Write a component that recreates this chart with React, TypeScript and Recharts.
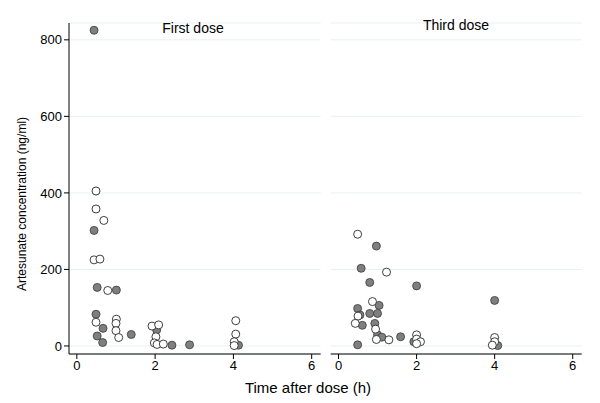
import React from "react";
import { ScatterChart, Scatter, XAxis, YAxis, CartesianGrid } from "recharts";

type Pt = { t: number; c: number };

const xTicks = [0, 2, 4, 6];
const yTicks = [0, 200, 400, 600, 800];
const panelTitles = ["First dose", "Third dose"];
const xLabel = "Time after dose (h)";
const yLabel = "Artesunate concentration (ng/ml)";

// First dose, filled markers
const firstFilled: Pt[] = [
  { t: 0.44, c: 825 }, { t: 0.44, c: 302 }, { t: 0.52, c: 153 }, { t: 1.01, c: 146 },
  { t: 0.49, c: 83 }, { t: 0.67, c: 46 }, { t: 0.52, c: 26 }, { t: 1.39, c: 30 },
  { t: 0.66, c: 9 }, { t: 2.04, c: 42 }, { t: 2.43, c: 2 }, { t: 2.88, c: 3 },
  { t: 4.13, c: 2 },
];
// First dose, hollow markers
const firstHollow: Pt[] = [
  { t: 0.49, c: 405 }, { t: 0.49, c: 358 }, { t: 0.69, c: 328 }, { t: 0.44, c: 225 },
  { t: 0.59, c: 227 }, { t: 0.79, c: 145 }, { t: 0.49, c: 62 }, { t: 1.01, c: 70 },
  { t: 1.0, c: 59 }, { t: 1.0, c: 40 }, { t: 1.07, c: 22 }, { t: 1.92, c: 52 },
  { t: 2.09, c: 55 }, { t: 2.02, c: 24 }, { t: 1.98, c: 8 }, { t: 2.05, c: 4 },
  { t: 2.21, c: 5 }, { t: 4.06, c: 66 }, { t: 4.06, c: 31 }, { t: 4.02, c: 11 },
  { t: 4.02, c: 1 },
];
// Third dose, filled markers
const thirdFilled: Pt[] = [
  { t: 0.97, c: 261 }, { t: 0.58, c: 203 }, { t: 0.8, c: 166 }, { t: 2.0, c: 157 },
  { t: 4.0, c: 119 }, { t: 1.04, c: 106 }, { t: 0.49, c: 98 }, { t: 0.55, c: 81 },
  { t: 0.8, c: 85 }, { t: 1.0, c: 85 }, { t: 0.61, c: 54 }, { t: 0.93, c: 59 },
  { t: 1.0, c: 29 }, { t: 1.11, c: 23 }, { t: 1.59, c: 24 }, { t: 0.49, c: 3 },
  { t: 1.93, c: 11 }, { t: 4.08, c: 1 },
];
// Third dose, hollow markers
const thirdHollow: Pt[] = [
  { t: 0.49, c: 292 }, { t: 1.23, c: 193 }, { t: 0.87, c: 116 }, { t: 0.5, c: 78 },
  { t: 0.43, c: 59 }, { t: 0.95, c: 44 }, { t: 0.97, c: 17 }, { t: 1.29, c: 16 },
  { t: 2.0, c: 29 }, { t: 2.0, c: 18 }, { t: 2.1, c: 11 }, { t: 2.0, c: 6 },
  { t: 4.0, c: 22 }, { t: 4.0, c: 11 }, { t: 3.94, c: 2 },
];

const FONT = "'Liberation Sans', Arial, Helvetica, sans-serif";
const xDomain = [-0.2, 6.23];
const yDomain = [-21, 844];

const FilledDot = (p: any) => (
  <circle cx={p.cx} cy={p.cy} r={4} fill="#7f7f7f" stroke="#3a3a3a" strokeWidth={0.8} />
);
const HollowDot = (p: any) => (
  <circle cx={p.cx} cy={p.cy} r={4} fill="#ffffff" stroke="#2a2a2a" strokeWidth={0.9} />
);

const tickStyle = { fontSize: 13, fill: "#000", fontFamily: FONT };

function Panel({ filled, hollow, showY, width, margin }: any) {
  return (
    <ScatterChart width={width} height={403} margin={margin}>
      <CartesianGrid vertical={false} stroke="#e8f1f1" strokeWidth={1} />
      <XAxis
        type="number"
        dataKey="t"
        domain={xDomain}
        ticks={xTicks}
        allowDataOverflow
        height={30}
        axisLine={{ stroke: "#000" }}
        tickLine={{ stroke: "#000" }}
        tickSize={5}
        tick={tickStyle}
      />
      <YAxis
        type="number"
        dataKey="c"
        domain={yDomain}
        ticks={yTicks}
        allowDataOverflow
        width={showY ? 69 : 0}
        hide={!showY}
        axisLine={{ stroke: "#000" }}
        tickLine={{ stroke: "#000" }}
        tickSize={5}
        tick={tickStyle}
      />
      <Scatter data={filled} shape={FilledDot} isAnimationActive={false} />
      <Scatter data={hollow} shape={HollowDot} isAnimationActive={false} />
    </ScatterChart>
  );
}

export default function App() {
  return (
    <div
      style={{
        position: "absolute",
        left: 0,
        top: 0,
        width: 600,
        height: 403,
        background: "#fff",
        fontFamily: FONT,
        overflow: "hidden",
      }}
    >
      <div style={{ position: "absolute", left: 0, top: 0 }}>
        <Panel
          filled={firstFilled}
          hollow={firstHollow}
          showY
          width={330}
          margin={{ top: 23, right: 9.3, bottom: 19, left: 0 }}
        />
      </div>
      <div style={{ position: "absolute", left: 330, top: 0 }}>
        <Panel
          filled={thirdFilled}
          hollow={thirdHollow}
          showY={false}
          width={270}
          margin={{ top: 23, right: 18.3, bottom: 19, left: 0.7 }}
        />
      </div>
      <div
        style={{
          position: "absolute",
          left: 133,
          width: 120,
          top: 20,
          textAlign: "center",
          fontSize: 14,
          color: "#000",
        }}
      >
        {panelTitles[0]}
      </div>
      <div
        style={{
          position: "absolute",
          left: 396,
          width: 120,
          top: 17,
          textAlign: "center",
          fontSize: 14,
          color: "#000",
        }}
      >
        {panelTitles[1]}
      </div>
      <div
        style={{
          position: "absolute",
          left: 208,
          width: 200,
          top: 379,
          textAlign: "center",
          fontSize: 15,
          color: "#000",
        }}
      >
        {xLabel}
      </div>
      <div
        style={{
          position: "absolute",
          left: 22,
          top: 204,
          width: 260,
          height: 20,
          marginLeft: -130,
          marginTop: -10,
          textAlign: "center",
          lineHeight: "20px",
          fontSize: 12,
          color: "#000",
          transform: "rotate(-90deg)",
        }}
      >
        {yLabel}
      </div>
    </div>
  );
}
